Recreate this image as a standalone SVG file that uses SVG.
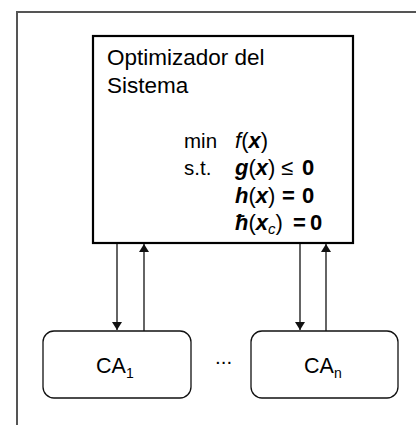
<svg xmlns="http://www.w3.org/2000/svg" width="416" height="425" viewBox="0 0 416 425">
<defs>
<style>
text{font-family:"Liberation Sans",Arial,sans-serif;fill:#000}
.t{font-size:22.5px}
.m{font-size:20.5px}
.e{font-size:22px}
.ca{font-size:21.5px}
.b{font-weight:bold}
.i{font-style:italic}
.c{fill:none;stroke:#111;stroke-width:1.3}
.box{fill:#fff;stroke:#111;stroke-width:1.3}
</style>
<marker id="ah" viewBox="0 0 8 10" refX="8" refY="5" markerWidth="8" markerHeight="10" markerUnits="userSpaceOnUse" orient="auto">
<path d="M0,0 L8,5 L0,10 Z" fill="#111"/>
</marker>
</defs>
<rect x="0" y="0" width="416" height="425" fill="#fff"/>
<rect id="frame" x="17" y="12" width="420" height="430" fill="none" stroke="#555" stroke-width="2"/>
<g id="optimizador">
<rect x="93" y="36" width="260" height="207" fill="#fff" stroke="#000" stroke-width="2.2"/>
<text class="t" x="107" y="65">Optimizador del</text>
<text class="t" x="107" y="93">Sistema</text>
<text class="m" x="184" y="148">min</text>
<text class="e" x="235" y="148"><tspan class="i">f</tspan>(<tspan class="b i">x</tspan>)</text>
<text class="m" x="184" y="175">s.t.</text>
<text class="e" x="235" y="175"><tspan class="b i">g</tspan>(<tspan class="b i">x</tspan>)</text>
<text class="e" x="281" y="175">≤</text>
<text class="e b" x="302" y="175">0</text>
<text class="e" x="235" y="203"><tspan class="b i">h</tspan>(<tspan class="b i">x</tspan>)</text>
<text class="e b" x="282" y="203">=</text>
<text class="e b" x="302" y="203">0</text>
<text class="e" x="235" y="230"><tspan class="b i">ħ</tspan>(<tspan class="b i">x</tspan><tspan class="i" font-size="15" dy="4">c</tspan><tspan dy="-4">)</tspan></text>
<text class="e b" x="293" y="230">=</text>
<text class="e b" x="310" y="230">0</text>
</g>
<g id="connectors">
<line class="c" x1="117" y1="244" x2="117" y2="330" marker-end="url(#ah)"/>
<line class="c" x1="144" y1="331" x2="144" y2="244" marker-end="url(#ah)"/>
<line class="c" x1="300" y1="244" x2="300" y2="330" marker-end="url(#ah)"/>
<line class="c" x1="326" y1="331" x2="326" y2="244" marker-end="url(#ah)"/>
</g>
<g id="ca1">
<rect class="box" x="43" y="331" width="148" height="67" rx="11"/>
<text class="ca" x="96" y="373">CA<tspan font-size="14" dy="5">1</tspan></text>
</g>
<g id="dots">
<text class="m" x="215" y="364">...</text>
</g>
<g id="can">
<rect class="box" x="251" y="331" width="147" height="67" rx="11"/>
<text class="ca" x="304" y="373">CA<tspan font-size="14" dy="5">n</tspan></text>
</g>
</svg>
